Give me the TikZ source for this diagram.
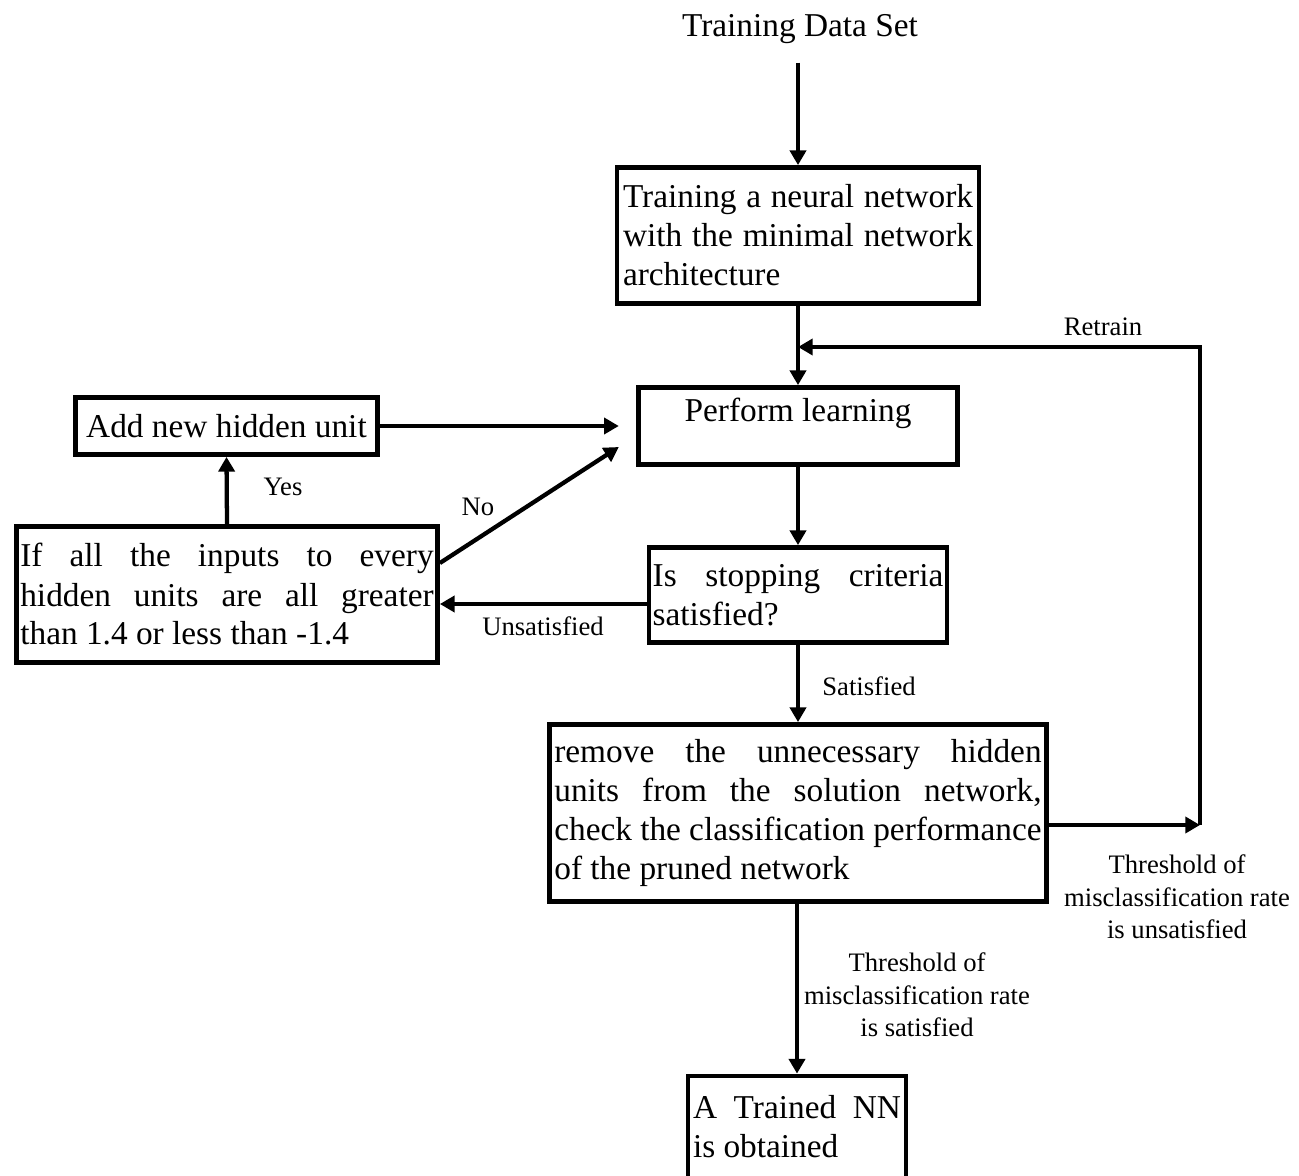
\documentclass[tikz,border=0pt]{standalone}
\usepackage{fontspec}
\setmainfont{Liberation Serif}
\usetikzlibrary{arrows.meta}
\begin{document}
\begin{tikzpicture}[x=0.75pt,y=-0.75pt,
  box/.style={draw,line width=3.6pt,rectangle,inner sep=0pt,
    font=\fontsize{25}{29.25}\selectfont},
  jbox/.style={box,align=justify},
  lbl/.style={font=\fontsize{20}{24.4}\selectfont,inner sep=0pt,align=center},
  arr/.style={line width=3.2pt,-{Triangle[length=11pt,width=12pt]}},
  seg/.style={line width=3.2pt}]
\useasboundingbox (0,0) rectangle (1299,1176);

% title
\node[font=\fontsize{25}{29.25}\selectfont,inner sep=0pt] (src) at (800,29) {Training Data Set};

% process boxes
\node[jbox,minimum width=271.5pt,minimum height=102pt,text width=262.5pt] (train) at (798,235.5)
  {Training a neural network\linebreak with the minimal network\linebreak architecture};
\node[box,minimum width=239.25pt,minimum height=57.75pt,text depth=25pt] (pl) at (798,426)
  {Perform learning};
\node[jbox,minimum width=223.5pt,minimum height=71.25pt,text width=218pt] (stop) at (798,595)
  {Is stopping criteria\linebreak satisfied?};
\node[jbox,minimum width=315.75pt,minimum height=102pt,text width=310pt] (cond) at (227,594.5)
  {If all the inputs to every\linebreak hidden units are all greater\linebreak than 1.4 or less than -1.4};
\node[box,minimum width=226.5pt,minimum height=42.75pt,inner xsep=4pt] (add) at (226.5,426)
  {Add new hidden unit};
\node[jbox,minimum width=372.75pt,minimum height=132.75pt,text width=365.5pt] (rem) at (798,813)
  {remove the unnecessary hidden\linebreak units from the solution network,\linebreak check the classification performance\linebreak of the pruned network};
\node[jbox,minimum width=163.5pt,minimum height=90pt,text width=156pt,text depth=43pt] (fin) at (797,1136)
  {A Trained NN\linebreak is obtained};

% helper points
\coordinate (rt) at (1200,825);
\coordinate (rj) at (798,347);
\coordinate (us) at (640,604);

% connectors
\draw[arr] ([yshift=-14pt]src.south -| train.north) -- (train.north);
\draw[arr] (train.south) -- (pl.north);
\draw[arr] (pl.south) -- (stop.north);
\draw[arr] (stop.west |- us) -- (cond.east |- us);
\draw[arr] (cond.north) -- (add.south);
\draw[arr,shorten >=13pt] (add.east) -- (pl.west);
\draw[arr] ([yshift=23.6pt]cond.east) -- ([xshift=-13pt,yshift=-15.75pt]pl.west);
\draw[arr] (stop.south) -- (rem.north);
\draw[arr] (fin.north |- rem.south) -- (fin.north);
\draw[arr] (rem.east |- rt) -- (rt);
\draw[seg] (rt) |- (1200,347);
\draw[arr] (1201.5,347) -- (rj);

% labels
\node[lbl] (lretrain) at (1103,327) {Retrain};
\node[lbl] (lyes) at (283,487) {Yes};
\node[lbl] (lno) at (478,507) {No};
\node[lbl] (lunsat) at (543,626) {Unsatisfied};
\node[lbl] (lsat) at (869,686) {Satisfied};
\node[lbl] (lthu) at (1177,897) {Threshold of\\misclassification rate\\is unsatisfied};
\node[lbl] (lths) at (917,995) {Threshold of\\misclassification rate\\is satisfied};
\end{tikzpicture}
\end{document}
